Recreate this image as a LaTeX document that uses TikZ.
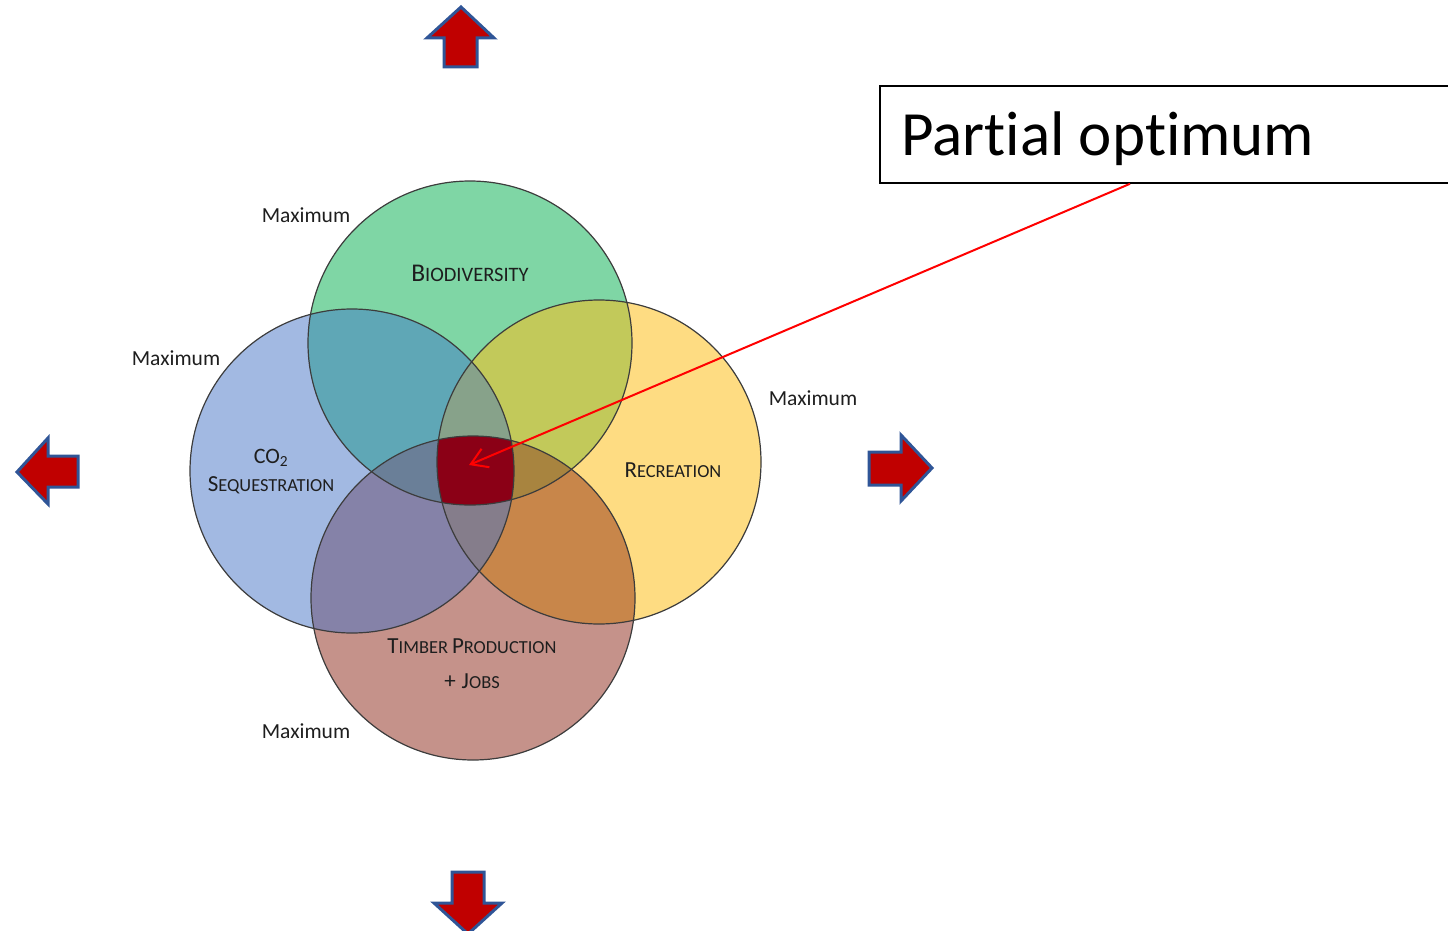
\documentclass[tikz,border=0pt]{standalone}
\usepackage{fontspec}
\setmainfont{Carlito}[Ligatures={NoCommon,NoContextual,NoRare}]
\usetikzlibrary{arrows.meta,calc}
\definecolor{cG}{HTML}{7FD6A5}
\definecolor{cB}{HTML}{A2B9E2}
\definecolor{cY}{HTML}{FEDC82}
\definecolor{cR}{HTML}{C5928A}
\definecolor{cGB}{HTML}{5FA7B6}
\definecolor{cGY}{HTML}{C2C95A}
\definecolor{cBR}{HTML}{8582A8}
\definecolor{cYR}{HTML}{C8864A}
\definecolor{cGBY}{HTML}{87A28A}
\definecolor{cGBR}{HTML}{6A7F98}
\definecolor{cGYR}{HTML}{A8843F}
\definecolor{cBYR}{HTML}{857D8B}
\definecolor{cCore}{HTML}{8B0016}
\definecolor{arrRed}{HTML}{C00000}
\definecolor{arrBlue}{HTML}{2F5597}
\definecolor{outl}{HTML}{3C3C3C}
\definecolor{txt}{HTML}{1E1E1E}
\newcommand{\mysc}[2]{{\fontsize{23}{26}\selectfont #1\fontsize{18.4}{22}\selectfont #2}}
\newcommand{\myscbig}[2]{{\fontsize{25.5}{28}\selectfont #1\fontsize{20.5}{24}\selectfont #2}}
\begin{document}
\begin{tikzpicture}[x=1pt,y=-1pt,
  blockarrow/.style={fill=arrRed,draw=arrBlue,line width=3pt,line join=miter},
  circlabel/.style={text=txt,inner sep=0pt,align=center},
  maxlabel/.style={text=txt,inner sep=0pt,font=\fontsize{21.5}{25}\selectfont},
  ring/.style={draw=outl,line width=1.2pt},
  pointer/.style={draw=red,line width=2pt,-{Straight Barb[length=16pt,width=20pt,line width=2pt]}}]
\useasboundingbox (0,0) rectangle (1448,931);
\def\rr{162}
\coordinate (cg) at (470,343);
\coordinate (cb) at (352,471);
\coordinate (cy) at (599,462);
\coordinate (cr) at (473,598);
% single fills
\fill[cG] (cg) circle (\rr);
\fill[cB] (cb) circle (\rr);
\fill[cY] (cy) circle (\rr);
\fill[cR] (cr) circle (\rr);
% pairs
\begin{scope}\clip (cg) circle (\rr); \fill[cGB] (cb) circle (\rr); \end{scope}
\begin{scope}\clip (cg) circle (\rr); \fill[cGY] (cy) circle (\rr); \end{scope}
\begin{scope}\clip (cb) circle (\rr); \fill[cBR] (cr) circle (\rr); \end{scope}
\begin{scope}\clip (cy) circle (\rr); \fill[cYR] (cr) circle (\rr); \end{scope}
% triples
\begin{scope}\clip (cg) circle (\rr); \clip (cb) circle (\rr); \fill[cGBY] (cy) circle (\rr); \end{scope}
\begin{scope}\clip (cg) circle (\rr); \clip (cb) circle (\rr); \fill[cGBR] (cr) circle (\rr); \end{scope}
\begin{scope}\clip (cg) circle (\rr); \clip (cy) circle (\rr); \fill[cGYR] (cr) circle (\rr); \end{scope}
\begin{scope}\clip (cb) circle (\rr); \clip (cy) circle (\rr); \fill[cBYR] (cr) circle (\rr); \end{scope}
% core
\begin{scope}\clip (cg) circle (\rr); \clip (cb) circle (\rr); \clip (cy) circle (\rr); \fill[cCore] (cr) circle (\rr); \end{scope}
% outlines
\draw[ring] (cg) circle (\rr);
\draw[ring] (cb) circle (\rr);
\draw[ring] (cy) circle (\rr);
\draw[ring] (cr) circle (\rr);
% circle labels
\node[circlabel] (bio) at (470,273) {\myscbig{B}{IODIVERSITY}};
\node[circlabel] (rec) at (673,470) {\mysc{R}{ECREATION}};
\node[circlabel] (co2) at (271,458) {{\fontsize{22}{26}\selectfont CO\textsubscript{2}}};
\node[circlabel] (seq) at (271,485) {\mysc{S}{EQUESTRATION}};
\node[circlabel] (tim) at (472,646) {\mysc{T}{IMBER}\hspace{4pt}\mysc{P}{RODUCTION}};
\node[circlabel] (job) at (472,681) {{\fontsize{23}{26}\selectfont +}\hspace{6pt}\mysc{J}{OBS}};
% maximum labels
\node[maxlabel] (m1) at (306,215) {Maximum};
\node[maxlabel] (m2) at (176,358) {Maximum};
\node[maxlabel] (m3) at (813,398) {Maximum};
\node[maxlabel] (m4) at (306,731) {Maximum};
% block arrows
\draw[blockarrow] (461,7) -- (427,38) -- (444,38) -- (444,67) -- (477,67) -- (477,38) -- (494,38) -- cycle;
\draw[blockarrow] (17,472) -- (48,438) -- (48,456) -- (78,456) -- (78,487) -- (48,487) -- (48,504) -- cycle;
\draw[blockarrow] (932,468) -- (901,435) -- (901,452) -- (869,452) -- (869,485) -- (901,485) -- (901,501) -- cycle;
\draw[blockarrow] (468,934) -- (434,903) -- (452,903) -- (452,872) -- (484,872) -- (484,903) -- (502,903) -- cycle;
% text box
\node[draw=black,line width=1.8pt,minimum width=620pt,minimum height=97pt,anchor=north west,inner sep=0pt] (box) at (879,85) {};
\node[anchor=base west,inner sep=0pt,font=\fontsize{63}{70}\selectfont,text=black] (title) at (901,155) {Partial op{}timum};
\coordinate (lstart) at ($(box.south west)+(251,0)$);
\coordinate (tip) at (469,465);
\draw[pointer] (lstart) -- (tip);
\end{tikzpicture}
\end{document}
